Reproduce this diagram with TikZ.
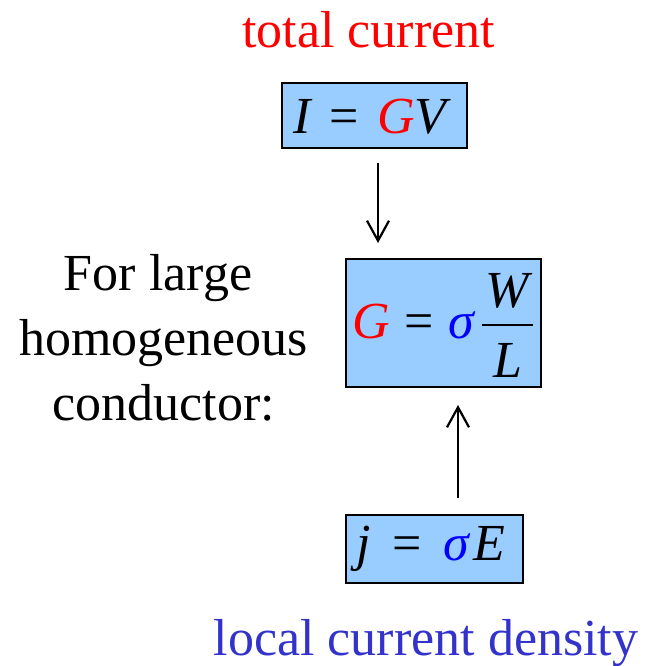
\documentclass[tikz,border=0pt]{standalone}
\usepackage{fontspec}
\setmainfont{Liberation Serif}
\usetikzlibrary{arrows.meta}
\definecolor{boxfill}{HTML}{99CCFF}
\definecolor{labelblue}{HTML}{3333CC}
\definecolor{sigblue}{HTML}{0000FF}
\definecolor{gred}{HTML}{FF0000}
\tikzset{
  bigfont/.style={font=\fontsize{52}{62}\selectfont},
  eqbox/.style={draw=black, line width=1.8pt, fill=boxfill, inner sep=0pt, rectangle},
  txt/.style={bigfont, inner sep=0pt, anchor=base},
  arr/.style={line width=2.2pt, -{Straight Barb[length=20pt,width=22pt,line width=2.2pt]}},
}
\begin{document}
\begin{tikzpicture}[x=1pt,y=-1pt]
\useasboundingbox (0,0) rectangle (650,666);
% boxes
\node[eqbox, minimum width=185pt, minimum height=65pt] (b1) at (374.5,115.5) {};
\node[eqbox, minimum width=195pt, minimum height=128pt] (b2) at (443.5,323) {};
\node[eqbox, minimum width=177pt, minimum height=68pt] (b3) at (434.5,549) {};
% labels
\node[txt, text=gred] (tc) at (368.5,48) {total current};
\node[txt, text=labelblue] (lc) at (426,655) {local current density};
\node[txt] (l1) at (158,290) {For large};
\node[txt] (l2) at (163.5,355) {homogeneous};
\node[txt] (l3) at (164,420) {conductor:};
% equations
\node[txt] (e1) at (370,133) {\itshape I\hspace{0.36em}\upshape=\hspace{0.36em}\itshape\textcolor{gred}{G}V};
\node[txt, anchor=base west] (e2) at (352,338) {\itshape\textcolor{gred}{G}\hspace{0.28em}\upshape=\hspace{0.28em}\itshape\textcolor{sigblue}{σ}};
\node[txt] (fw) at (507,307) {\itshape W};
\node[txt] (fl) at (508,377) {\itshape L};
\coordinate (barl) at (482,325);
\coordinate (barr) at (533,325);
\draw[line width=2pt] (barl) -- (barr);
\node[txt] (e3) at (431,560) {\itshape j\hspace{0.42em}\upshape=\hspace{0.42em}\itshape\textcolor{sigblue}{σ}\hspace{0.08em}E};
% arrows
\coordinate (a1s) at (378,163);
\coordinate (a1e) at (378,243);
\coordinate (a2s) at (458,498);
\coordinate (a2e) at (458,405);
\draw[arr] (a1s) -- (a1e);
\draw[arr] (a2s) -- (a2e);
\end{tikzpicture}
\end{document}
